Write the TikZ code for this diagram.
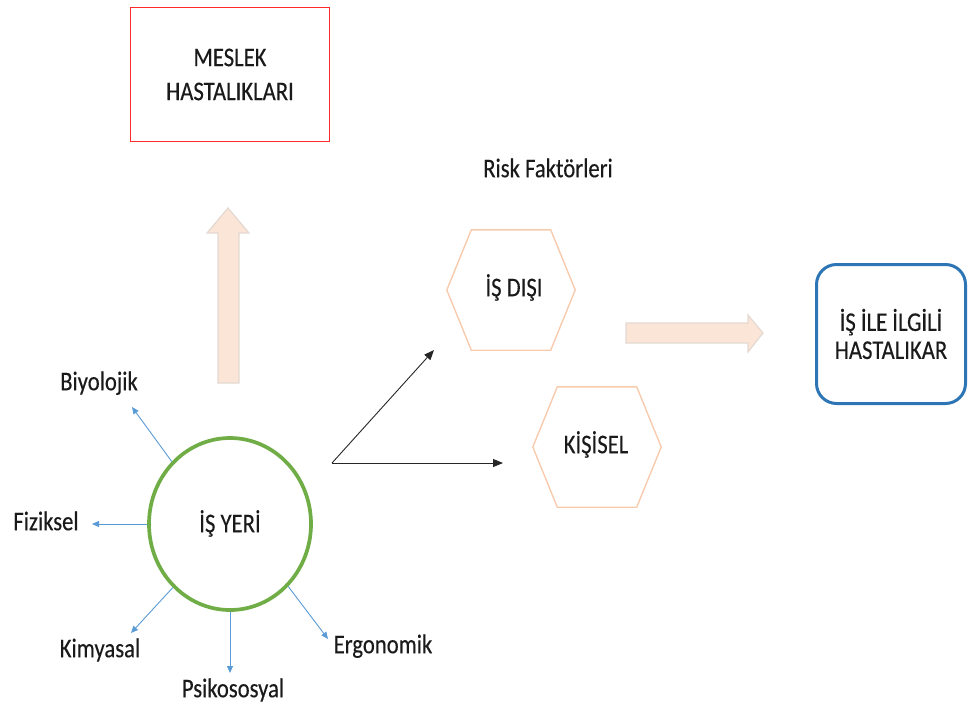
\documentclass[tikz,border=0pt]{standalone}
\usepackage{fontspec}
\setmainfont[FakeStretch=0.84,FakeBold=0.3]{Carlito}
\usetikzlibrary{arrows.meta,shapes.geometric}

\definecolor{boxred}{HTML}{FF2A2A}
\definecolor{boxblue}{HTML}{2E75B6}
\definecolor{ringgreen}{HTML}{70AD47}
\definecolor{hexline}{HTML}{F8CBAD}
\definecolor{peachfill}{HTML}{FBE5D6}
\definecolor{peachline}{HTML}{E3D9D2}
\definecolor{factorblue}{HTML}{5B9BD5}
\definecolor{pointer}{HTML}{262626}
\definecolor{ink}{HTML}{1A1A1A}

\tikzset{
  txt/.style={font=\fontsize{27}{33}\selectfont, text=ink, inner sep=0pt, text height=0.644em, text depth=0pt},
  multitxt/.style={font=\fontsize{27}{#1}\selectfont, text=ink, inner sep=0pt, align=center},
  hexnode/.style={txt, minimum width=128pt, minimum height=120pt},
  hexline/.style={draw=hexline, line width=1.4pt, line join=miter},
  blockarrow/.style={fill=peachfill, draw=peachline, line width=1.2pt},
  factor/.style={draw=factorblue, line width=0.9pt, -{Triangle[length=7pt,width=6pt]}},
  pointerline/.style={draw=pointer, line width=0.9pt, -{Triangle[length=10pt,width=8pt]}}
}

\begin{document}
\begin{tikzpicture}[x=1pt,y=-1pt]
\useasboundingbox (0,0) rectangle (968,707);

% occupational diseases box
\node[multitxt=34, draw=boxred, line width=1.5pt, minimum width=199pt, minimum height=134pt] (meslek) at (230,74.5) {MESLEK\\HASTALIKLARI};

% work-related diseases box
\node[multitxt=28, draw=boxblue, line width=3pt, rounded corners=20pt, minimum width=149pt, minimum height=139pt] (ilgili) at (891,334) {İŞ İLE İLGİLİ\\HASTALIKAR};

% workplace
\node[txt, shape=ellipse, draw=ringgreen, line width=3.7pt, minimum width=162pt, minimum height=172pt] (yeri) at (230,524) {};
\node[txt] (yeritxt) at (230,529) {İŞ YERİ};

% risk factors
\node[txt] (risk) at (548,174) {Risk Faktörleri};
\node[hexnode] (disi) at (511,290) {};
\node[txt] (disitxt) at (514,293) {İŞ DIŞI};
\node[hexnode] (kisisel) at (597,447) {};
\node[txt] (kisiseltxt) at (596,450) {KİŞİSEL};
\foreach \h in {disi,kisisel}{
  \draw[hexline] (\h.west) -- ([xshift=24.5pt]\h.north west) -- ([xshift=-24.5pt]\h.north east)
    -- (\h.east) -- ([xshift=-24.5pt]\h.south east) -- ([xshift=24.5pt]\h.south west) -- cycle;
}

% block arrows
\draw[blockarrow] (218,383) -- (218,233) -- (207,233) -- (228,208) -- (249,233) -- (239,233) -- (239,383) -- cycle;
\draw[blockarrow] (626,323) -- (748,323) -- (748,315) -- (763,333) -- (748,352) -- (748,343) -- (626,343) -- cycle;

% hazard labels
\node[txt] (bio) at (99,387) {Biyolojik};
\node[txt] (fiz) at (46,527) {Fiziksel};
\node[txt] (kim) at (100,654) {Kimyasal};
\node[txt] (psi) at (233,694) {Psikososyal};
\node[txt] (erg) at (383,650) {Ergonomik};

\coordinate (tbio) at (132,407);
\coordinate (tfiz) at (92,524);
\coordinate (tkim) at (131,633);
\coordinate (tpsi) at (230,673);
\coordinate (terg) at (328,639);
\draw[factor] (yeri.133) -- (tbio);
\draw[factor] (yeri.180) -- (tfiz);
\draw[factor] (yeri.228) -- (tkim);
\draw[factor] (yeri.270) -- (tpsi);
\draw[factor] (yeri.313) -- (terg);

% pointers towards the risk factors
\coordinate (origin) at (332,463);
\coordinate (tdisi) at (434,350);
\coordinate (tkisi) at (503,463);
\draw[pointerline] (origin) -- (tdisi);
\draw[pointerline] (origin) -- (tkisi);
\end{tikzpicture}
\end{document}
